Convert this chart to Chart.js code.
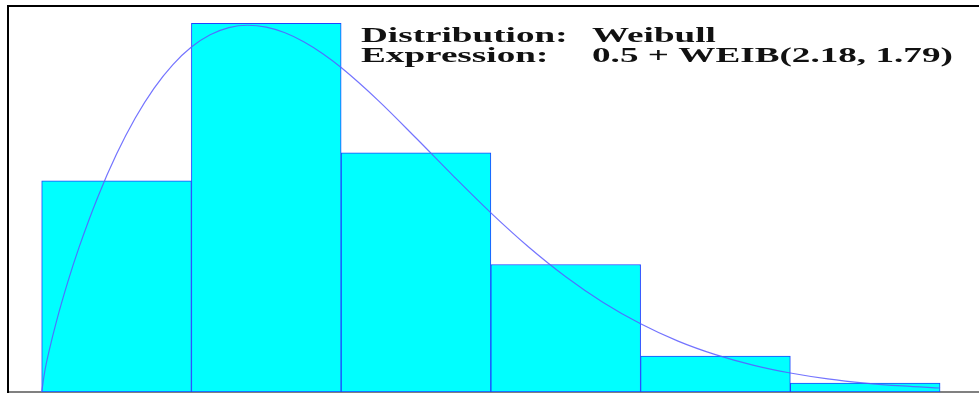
<!DOCTYPE html>
<html>
<head>
<meta charset="utf-8">
<style>
  html, body { margin: 0; padding: 0; background: #ffffff; }
  #wrap { width: 979px; height: 398px; }
</style>
<script src="https://cdn.jsdelivr.net/npm/chart.js@4/dist/chart.umd.min.js"></script>
</head>
<body>
<div id="wrap"><canvas id="hist" width="979" height="398"></canvas></div>
<script>
// Histogram bins (centres of unit-wide bins) and their relative frequencies
const binCenters = [1, 2, 3, 4, 5, 6];
const relFreq = [0.212, 0.370, 0.240, 0.128, 0.036, 0.009];

// Fitted density curve: 0.5 + WEIB(2.18, 1.79)
const curveX = [0.5, 0.52, 0.55, 0.6, 0.675, 0.75, 0.875, 1.0, 1.125, 1.25, 1.375, 1.5, 1.625,
                1.75, 1.875, 2.0, 2.125, 2.25, 2.375, 2.5, 2.75, 3.0, 3.25, 3.5, 3.75, 4.0,
                4.25, 4.5, 4.75, 5.0, 5.25, 5.5, 5.75, 6.0, 6.25, 6.5];
const curveY = [0, 0.0202, 0.0416, 0.0717, 0.1108, 0.1454, 0.1958, 0.2388, 0.2750, 0.3048,
                0.3284, 0.3462, 0.3585, 0.3657, 0.3681, 0.3662, 0.3605, 0.3515, 0.3397, 0.3256,
                0.2922, 0.2549, 0.2167, 0.1798, 0.1458, 0.1157, 0.0899, 0.0685, 0.0511, 0.0375,
                0.0270, 0.0191, 0.0132, 0.0090, 0.0061, 0.0040];

// Annotation lines (label, value)
const infoLabels = ['Distribution:', 'Expression:'];
const infoValues = ['Weibull', '0.5 + WEIB(2.18, 1.79)'];

const infoText = {
  id: 'infoText',
  afterDatasetsDraw(chart) {
    const ctx = chart.ctx;
    const a = chart.chartArea;
    ctx.save();
    ctx.fillStyle = '#111111';
    ctx.font = 'bold 21px "Liberation Serif", "Times New Roman", serif';
    ctx.textBaseline = 'alphabetic';
    const sx = 1.77;
    const labelX = a.left + 353;
    const valueX = a.left + 584;
    infoLabels.forEach((lab, i) => {
      const y = a.top + 36 + i * 20;
      ctx.save();
      ctx.translate(labelX, y);
      ctx.scale(sx, 1);
      ctx.fillText(lab, 0, 0);
      ctx.restore();
      ctx.save();
      ctx.translate(valueX, y);
      ctx.scale(sx, 1);
      ctx.fillText(infoValues[i], 0, 0);
      ctx.restore();
    });
    ctx.restore();
  }
};

// Hidden ticks sit on the bin centres so each bar spans exactly one bin
const binTicks = (scale) => { scale.ticks = binCenters.map(v => ({ value: v })); };

new Chart(document.getElementById('hist'), {
  data: {
    datasets: [
      {
        type: 'line',
        order: 0,
        data: curveX.map((x, i) => ({ x: x, y: curveY[i] })),
        borderColor: 'rgba(90, 90, 255, 0.85)',
        borderWidth: 1.2,
        pointRadius: 0,
        fill: false,
        cubicInterpolationMode: 'monotone'
      },
      {
        type: 'bar',
        order: 1,
        data: binCenters.map((x, i) => ({ x: x, y: relFreq[i] })),
        backgroundColor: '#00ffff',
        borderColor: 'rgb(30, 70, 255)',
        borderWidth: 1,
        borderSkipped: false,
        barPercentage: 1,
        categoryPercentage: 1
      }
    ]
  },
  options: {
    responsive: false,
    devicePixelRatio: 1,
    animation: false,
    layout: { padding: { left: 8, top: 6, right: 0, bottom: 6 } },
    plugins: { legend: { display: false }, tooltip: { enabled: false } },
    scales: {
      x: {
        type: 'linear',
        position: 'bottom',
        offset: false,
        min: 0.275,
        max: 6.76,
        afterBuildTicks: binTicks,
        ticks: { display: false },
        grid: { display: false, drawTicks: false },
        border: { display: true, color: '#808080', width: 2 }
      },
      xTop: {
        type: 'linear',
        position: 'top',
        offset: false,
        min: 0.275,
        max: 6.76,
        afterBuildTicks: binTicks,
        ticks: { display: false },
        grid: { display: false, drawTicks: false },
        border: { display: true, color: '#000000', width: 2 }
      },
      y: {
        type: 'linear',
        min: 0,
        max: 0.3874,
        ticks: { display: false },
        grid: { display: false, drawTicks: false },
        border: { display: true, color: '#000000', width: 2 }
      }
    }
  },
  plugins: [infoText]
});
</script>
</body>
</html>
